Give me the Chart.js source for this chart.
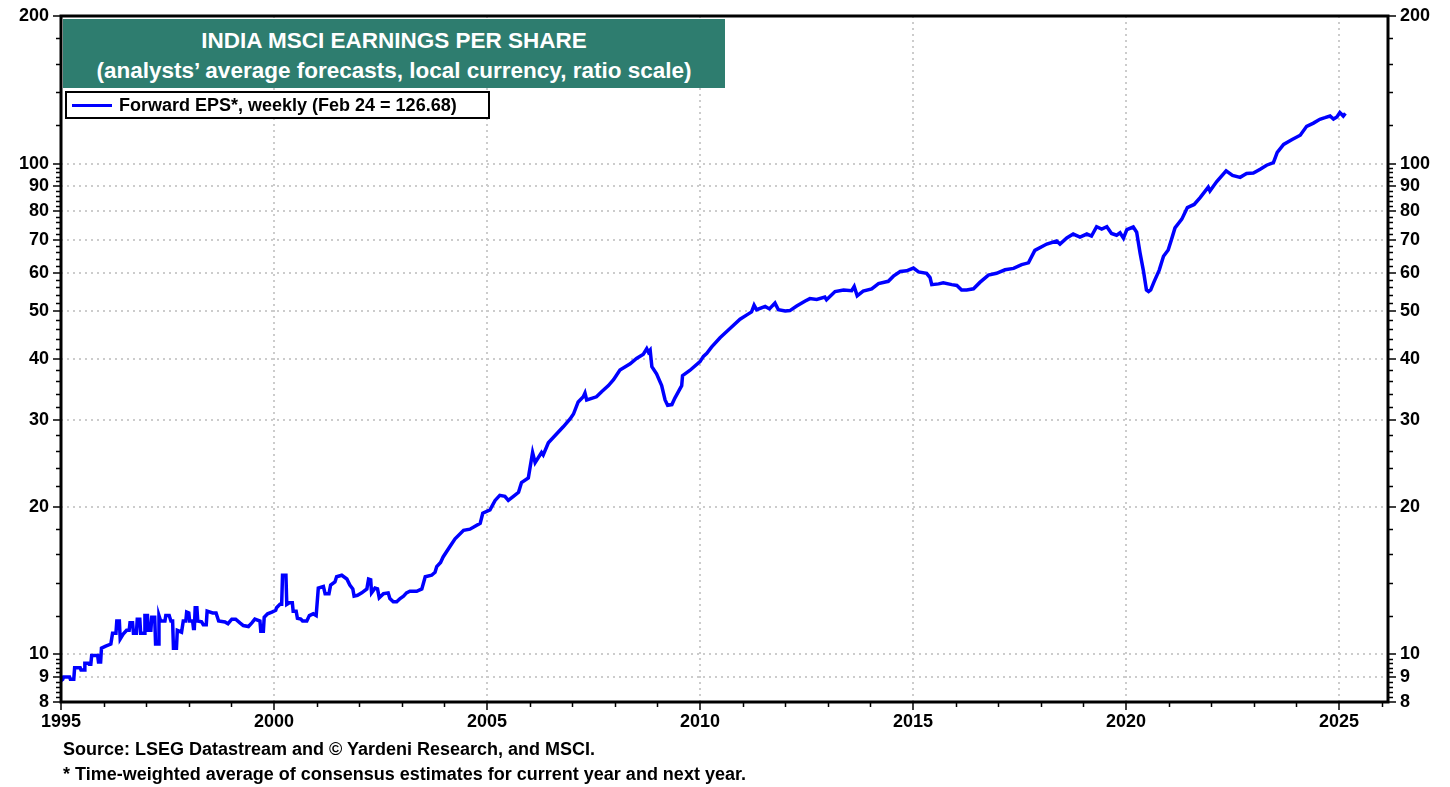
<!DOCTYPE html>
<html>
<head>
<meta charset="utf-8">
<title>India MSCI Earnings Per Share</title>
<script src="https://cdn.jsdelivr.net/npm/chart.js@4.4.1/dist/chart.umd.min.js"></script>
<style>
  body { margin: 0; background: #fff; }
  #wrap { position: relative; width: 1450px; height: 787px; font-family: "Liberation Sans", Arial, sans-serif; font-weight: bold; }
  #epsChart { position: absolute; left: 0; top: 0; }
  #titleBox {
    position: absolute; left: 63px; top: 19px; width: 662px; height: 69px;
    background: #2e7d6f; color: #fff; font-size: 22.5px; line-height: 30px;
    text-align: center; padding-top: 7px; box-sizing: border-box; white-space: nowrap;
  }
  #legendBox {
    position: absolute; left: 65px; top: 91px; width: 425px; height: 28px;
    border: 2px solid #000; box-sizing: border-box; background: #fff; font-size: 18px;
  }
  #legendBox .swatch { position: absolute; left: 5px; top: 11px; width: 40px; height: 3px; background: #0000ff; }
  #legendBox .label { position: absolute; left: 52px; top: 0; line-height: 24px; white-space: nowrap; }
  .note { position: absolute; left: 63px; font-size: 18px; line-height: 20px; white-space: nowrap; }
</style>
</head>
<body>
<div id="wrap">
  <canvas id="epsChart" width="1450" height="787"></canvas>
  <div id="titleBox">INDIA MSCI EARNINGS PER SHARE<br>(analysts’ average forecasts, local currency, ratio scale)</div>
  <div id="legendBox"><span class="swatch"></span><span class="label">Forward EPS*, weekly (Feb 24 = 126.68)</span></div>
  <div class="note" style="top: 739px;">Source: LSEG Datastream and © Yardeni Research, and MSCI.</div>
  <div class="note" style="top: 764px;">* Time-weighted average of consensus estimates for current year and next year.</div>
</div>
<script>
// Forward EPS (decimal year, value)
const years = [
  1995.00, 1995.04, 1995.06, 1995.20, 1995.22, 1995.30, 1995.32, 1995.45, 1995.47, 1995.54,
  1995.56, 1995.64, 1995.66, 1995.70, 1995.72, 1995.86, 1995.88, 1995.93, 1995.95, 1996.05,
  1996.17, 1996.21, 1996.29, 1996.31, 1996.37, 1996.39, 1996.46, 1996.54, 1996.60, 1996.62,
  1996.68, 1996.70, 1996.77, 1996.79, 1996.85, 1996.87, 1996.95, 1996.97, 1997.03, 1997.05,
  1997.11, 1997.13, 1997.20, 1997.22, 1997.28, 1997.30, 1997.34, 1997.44, 1997.46, 1997.54,
  1997.58, 1997.62, 1997.64, 1997.71, 1997.73, 1997.83, 1997.87, 1997.93, 1997.95, 1998.00,
  1998.02, 1998.09, 1998.11, 1998.13, 1998.15, 1998.19, 1998.21, 1998.30, 1998.34, 1998.41,
  1998.43, 1998.56, 1998.64, 1998.70, 1998.85, 1998.92, 1999.01, 1999.10, 1999.20, 1999.28,
  1999.40, 1999.48, 1999.55, 1999.67, 1999.69, 1999.75, 1999.77, 1999.85, 1999.95, 2000.04,
  2000.06, 2000.14, 2000.18, 2000.20, 2000.28, 2000.30, 2000.36, 2000.43, 2000.45, 2000.52,
  2000.55, 2000.63, 2000.67, 2000.77, 2000.83, 2000.92, 2000.99, 2001.04, 2001.16, 2001.20,
  2001.29, 2001.33, 2001.43, 2001.47, 2001.59, 2001.71, 2001.78, 2001.85, 2001.88, 2001.96,
  2002.06, 2002.18, 2002.22, 2002.27, 2002.29, 2002.37, 2002.43, 2002.47, 2002.57, 2002.68,
  2002.72, 2002.80, 2002.88, 2002.96, 2003.04, 2003.11, 2003.19, 2003.35, 2003.47, 2003.55,
  2003.70, 2003.78, 2003.82, 2003.91, 2003.97, 2004.13, 2004.25, 2004.45, 2004.60, 2004.84,
  2004.90, 2005.07, 2005.19, 2005.30, 2005.42, 2005.50, 2005.62, 2005.74, 2005.81, 2005.97,
  2006.07, 2006.13, 2006.28, 2006.32, 2006.44, 2006.56, 2006.79, 2006.95, 2007.03, 2007.14,
  2007.26, 2007.30, 2007.34, 2007.57, 2007.69, 2007.85, 2007.97, 2008.12, 2008.36, 2008.51,
  2008.67, 2008.75, 2008.79, 2008.83, 2008.87, 2008.98, 2009.10, 2009.18, 2009.24, 2009.34,
  2009.41, 2009.57, 2009.59, 2009.76, 2010.00, 2010.08, 2010.16, 2010.27, 2010.47, 2010.71,
  2010.94, 2011.10, 2011.21, 2011.27, 2011.33, 2011.53, 2011.63, 2011.76, 2011.84, 2012.00,
  2012.11, 2012.27, 2012.47, 2012.58, 2012.74, 2012.93, 2012.97, 2013.17, 2013.37, 2013.56,
  2013.62, 2013.69, 2013.83, 2014.03, 2014.19, 2014.42, 2014.54, 2014.70, 2014.85, 2015.01,
  2015.13, 2015.32, 2015.40, 2015.44, 2015.60, 2015.71, 2015.91, 2016.03, 2016.14, 2016.26,
  2016.42, 2016.57, 2016.77, 2016.96, 2017.16, 2017.36, 2017.55, 2017.71, 2017.86, 2018.14,
  2018.37, 2018.45, 2018.61, 2018.76, 2018.92, 2019.08, 2019.19, 2019.31, 2019.43, 2019.55,
  2019.66, 2019.78, 2019.86, 2019.94, 2020.02, 2020.17, 2020.25, 2020.33, 2020.41, 2020.48,
  2020.53, 2020.58, 2020.66, 2020.78, 2020.88, 2020.99, 2021.07, 2021.15, 2021.31, 2021.44,
  2021.60, 2021.74, 2021.93, 2021.97, 2022.13, 2022.35, 2022.50, 2022.68, 2022.83, 2022.99,
  2023.15, 2023.30, 2023.46, 2023.55, 2023.70, 2023.90, 2024.09, 2024.24, 2024.40, 2024.55,
  2024.67, 2024.79, 2024.87, 2024.95, 2025.02, 2025.10, 2025.15
];
const eps = [
  8.85, 8.9, 9.0, 9.0, 8.9, 8.9, 9.4, 9.4, 9.3, 9.3,
  9.6, 9.6, 9.55, 9.55, 9.95, 9.95, 9.65, 9.65, 10.3, 10.4,
  10.5, 11.05, 11.05, 11.7, 11.7, 10.75, 11.0, 11.2, 11.2, 11.6,
  11.6, 11.05, 11.05, 11.8, 11.8, 11.05, 11.05, 12.0, 12.0, 11.2,
  11.2, 11.9, 11.9, 10.5, 10.5, 12.0, 11.7, 11.7, 12.0, 12.0,
  11.7, 11.7, 10.3, 10.3, 11.2, 11.1, 11.7, 11.7, 12.2, 12.15,
  11.7, 11.7, 11.3, 11.3, 12.45, 12.45, 11.7, 11.65, 11.5, 11.5,
  12.25, 12.15, 12.15, 11.7, 11.65, 11.55, 11.8, 11.8, 11.6, 11.45,
  11.4, 11.6, 11.8, 11.7, 11.15, 11.15, 11.9, 12.1, 12.2, 12.3,
  12.45, 12.65, 12.65, 14.5, 14.5, 12.65, 12.75, 12.75, 12.25, 12.25,
  11.85, 11.8, 11.7, 11.7, 12.0, 12.1, 12.0, 13.65, 13.75, 13.3,
  13.3, 13.85, 14.05, 14.4, 14.5, 14.25, 13.85, 13.6, 13.15, 13.2,
  13.35, 13.6, 14.25, 14.2, 13.35, 13.65, 13.6, 13.05, 13.3, 13.35,
  13.0, 12.8, 12.8, 13.0, 13.15, 13.35, 13.45, 13.45, 13.6, 14.4,
  14.5, 14.7, 15.1, 15.4, 15.8, 16.6, 17.2, 17.9, 18.0, 18.5,
  19.4, 19.7, 20.6, 21.1, 21.0, 20.6, 21.0, 21.4, 22.4, 22.9,
  25.8, 24.6, 25.8, 25.5, 27.0, 27.7, 29.1, 30.2, 30.9, 32.7,
  33.5, 34.1, 33.0, 33.5, 34.3, 35.3, 36.3, 38.0, 39.1, 40.1,
  40.9, 42.0, 41.3, 41.7, 38.6, 37.3, 35.3, 33.0, 32.2, 32.3,
  33.3, 35.3, 37.0, 37.9, 39.5, 40.5, 41.1, 42.3, 44.2, 46.2,
  48.2, 49.2, 49.9, 51.5, 50.4, 51.2, 50.6, 52.0, 50.4, 50.1,
  50.2, 51.3, 52.5, 53.1, 52.9, 53.5, 52.8, 54.9, 55.3, 55.1,
  56.2, 53.8, 55.0, 55.6, 57.0, 57.6, 59.0, 60.3, 60.5, 61.3,
  60.2, 59.8, 58.6, 56.7, 56.9, 57.2, 56.7, 56.5, 55.3, 55.3,
  55.6, 57.3, 59.3, 59.8, 60.8, 61.2, 62.3, 62.8, 66.6, 68.6,
  69.6, 68.6, 70.6, 71.9, 70.9, 71.9, 71.2, 74.4, 73.6, 74.4,
  72.1, 71.5, 72.3, 70.5, 73.4, 74.3, 72.5, 65.8, 60.4, 55.3,
  54.9, 55.3, 57.5, 60.7, 64.8, 66.7, 70.2, 74.0, 77.1, 81.4,
  82.6, 85.3, 89.6, 88.0, 92.0, 96.7, 94.7, 93.8, 95.5, 95.7,
  97.4, 99.3, 100.5, 105.5, 109.5, 112.0, 114.3, 119.2, 121.0, 123.2,
  124.1, 125.1, 123.3, 124.5, 127.2, 125.1, 126.68
];

// Axis ticks
const xMajor = [1995, 2000, 2005, 2010, 2015, 2020, 2025];
const xMinor = [1996, 1997, 1998, 1999, 2001, 2002, 2003, 2004, 2006, 2007, 2008, 2009,
  2011, 2012, 2013, 2014, 2016, 2017, 2018, 2019, 2021, 2022, 2023, 2024, 2026];
const yMajor = [8, 9, 10, 20, 30, 40, 50, 60, 70, 80, 90, 100, 200];
const yMinor = [8.2, 8.4, 8.6, 8.8, 9.2, 9.4, 9.6, 9.8, 12, 14, 16, 18, 120, 140, 160, 180];
for (let v = 22; v < 100; v += 2) if (v % 10) yMinor.push(v);

const gridColor = '#cccccc';
const tickFont = { family: '"Liberation Sans", Arial, sans-serif', size: 18, weight: 'bold' };

// minor tick marks + the black frame round the plot
const frameAndTicks = {
  id: 'frameAndTicks',
  afterDraw(chart) {
    const { ctx, chartArea: a, scales } = chart;
    ctx.save();
    ctx.strokeStyle = '#000';
    ctx.lineWidth = 1.5;
    ctx.beginPath();
    yMinor.forEach(v => {
      const py = Math.round(scales.y.getPixelForValue(v)) + 0.5;
      ctx.moveTo(a.left - 5, py); ctx.lineTo(a.left, py);
      ctx.moveTo(a.right, py); ctx.lineTo(a.right + 5, py);
    });
    xMinor.forEach(v => {
      const px = Math.round(scales.x.getPixelForValue(v)) + 0.5;
      ctx.moveTo(px, a.bottom); ctx.lineTo(px, a.bottom + 5);
    });
    ctx.stroke();
    ctx.lineWidth = 3;
    ctx.strokeRect(a.left, a.top, a.right - a.left, a.bottom - a.top);
    ctx.restore();
  }
};

const yAxis = (position, width) => ({
  type: 'logarithmic',
  position,
  min: 8,
  max: 200,
  afterBuildTicks: s => { s.ticks = yMajor.map(v => ({ value: v })); },
  afterFit: s => { s.width = width; },
  ticks: { autoSkip: false, color: '#000', font: tickFont, padding: 4, callback: v => String(v) },
  grid: {
    drawOnChartArea: position === 'left',
    color: c => (c.tick && (c.tick.value === 8 || c.tick.value === 200)) ? 'rgba(0,0,0,0)' : gridColor,
    lineWidth: 2,
    tickColor: '#000',
    tickWidth: 1.5,
    tickLength: 8
  },
  border: { display: false, dash: [2, 4] }
});

new Chart(document.getElementById('epsChart'), {
  type: 'line',
  data: {
    datasets: [{
      label: 'Forward EPS*, weekly',
      data: years.map((yr, i) => ({ x: yr, y: eps[i] })),
      borderColor: '#0000ff',
      borderWidth: 3.5,
      pointRadius: 0,
      tension: 0,
      fill: false
    }]
  },
  plugins: [frameAndTicks],
  options: {
    responsive: false,
    animation: false,
    layout: { padding: { top: 16, left: 0, right: 0, bottom: 0 } },
    plugins: { legend: { display: false }, tooltip: { enabled: false } },
    scales: {
      x: {
        type: 'linear',
        min: 1995,
        max: 2026.15,
        afterBuildTicks: s => { s.ticks = xMajor.map(v => ({ value: v })); },
        afterFit: s => { s.height = 85; },
        ticks: { autoSkip: false, maxRotation: 0, color: '#000', font: tickFont, padding: 1, callback: v => String(v) },
        grid: {
          color: c => (c.tick && c.tick.value === 1995) ? 'rgba(0,0,0,0)' : gridColor,
          lineWidth: 2,
          tickColor: '#000',
          tickWidth: 1.5,
          tickLength: 8
        },
        border: { display: false, dash: [2, 4] }
      },
      y: yAxis('left', 61),
      y2: yAxis('right', 62)
    }
  }
});
</script>
</body>
</html>
